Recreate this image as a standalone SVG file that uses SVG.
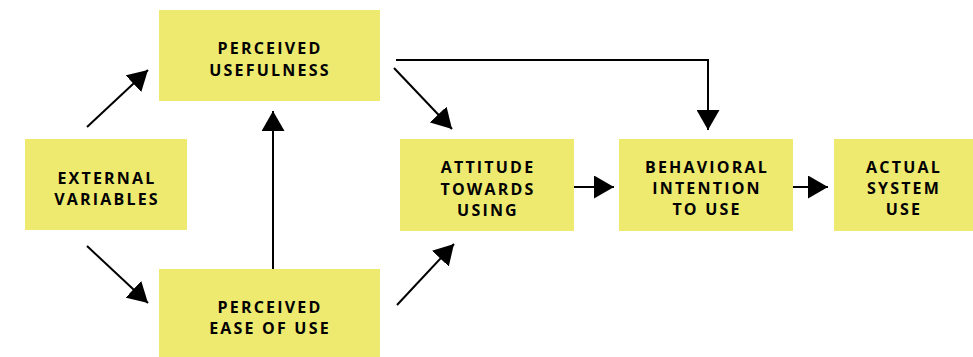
<svg xmlns="http://www.w3.org/2000/svg" width="973" height="357" viewBox="0 0 973 357">
  <defs>
    <marker id="head" markerWidth="20" markerHeight="23" refX="20" refY="11.5" orient="auto" markerUnits="userSpaceOnUse">
      <path d="M0,0 L20,11.5 L0,23 Z" fill="#000"/>
    </marker>
    <style>
      .box { fill: #EEEA70; }
      .lbl { font-family: "Open Sans", "Liberation Sans", sans-serif; font-weight: bold; font-size: 16px; letter-spacing: 2.2px; fill: #000; text-anchor: middle; }
      .edge { stroke: #000; stroke-width: 2; fill: none; marker-end: url(#head); }
    </style>
  </defs>
  <rect width="973" height="357" fill="#fff"/>

  <g id="connectors">
    <line class="edge" x1="87" y1="127" x2="148" y2="70"/>
    <line class="edge" x1="87" y1="246" x2="148" y2="303"/>
    <line class="edge" x1="273" y1="269" x2="273" y2="111"/>
    <line class="edge" x1="397" y1="305" x2="454" y2="244"/>
    <line class="edge" x1="394" y1="68" x2="452" y2="129"/>
    <polyline class="edge" points="396,60 708,60 708,130"/>
    <line class="edge" x1="574" y1="187" x2="614" y2="187"/>
    <line class="edge" x1="793" y1="187" x2="828" y2="187"/>
  </g>

  <g id="external-variables">
    <rect class="box" x="25" y="139" width="162" height="91"/>
    <text class="lbl" x="107" y="184">EXTERNAL</text>
    <text class="lbl" x="107" y="205">VARIABLES</text>
  </g>

  <g id="perceived-usefulness">
    <rect class="box" x="159" y="10" width="221" height="91"/>
    <text class="lbl" x="270" y="54">PERCEIVED</text>
    <text class="lbl" x="270" y="76">USEFULNESS</text>
  </g>

  <g id="perceived-ease-of-use">
    <rect class="box" x="159" y="269" width="221" height="88"/>
    <text class="lbl" x="270" y="313">PERCEIVED</text>
    <text class="lbl" x="270" y="334">EASE OF USE</text>
  </g>

  <g id="attitude-towards-using">
    <rect class="box" x="400" y="139" width="174" height="92"/>
    <text class="lbl" x="488" y="173">ATTITUDE</text>
    <text class="lbl" x="488" y="195">TOWARDS</text>
    <text class="lbl" x="488" y="216">USING</text>
  </g>

  <g id="behavioral-intention">
    <rect class="box" x="619" y="139" width="174" height="92"/>
    <text class="lbl" x="707" y="173">BEHAVIORAL</text>
    <text class="lbl" x="707" y="194">INTENTION</text>
    <text class="lbl" x="707" y="215">TO USE</text>
  </g>

  <g id="actual-system-use">
    <rect class="box" x="834" y="139" width="139" height="92"/>
    <text class="lbl" x="904" y="173">ACTUAL</text>
    <text class="lbl" x="904" y="194">SYSTEM</text>
    <text class="lbl" x="904" y="215">USE</text>
  </g>
</svg>
